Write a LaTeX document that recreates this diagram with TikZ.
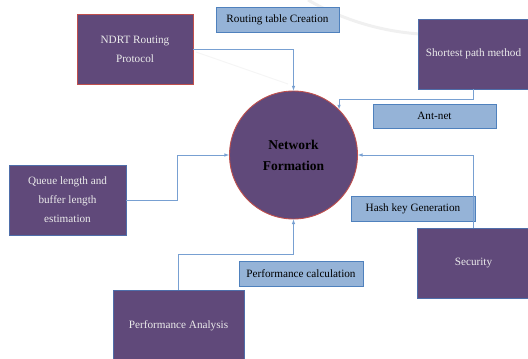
\documentclass[tikz,border=0pt]{standalone}
\usepackage{fontspec}
\setmainfont{Liberation Serif}
\definecolor{boxPurple}{RGB}{96,73,122}
\definecolor{edgeRed}{RGB}{192,80,77}
\definecolor{edgeBlue}{RGB}{79,110,170}
\definecolor{tagFill}{RGB}{149,179,215}
\definecolor{tagEdge}{RGB}{79,129,189}
\definecolor{wireBlue}{RGB}{120,160,210}
\begin{document}
\begin{tikzpicture}[
  x=1pt, y=-1pt,
  task/.style={rectangle, draw=edgeBlue, fill=boxPurple, line width=0.9pt,
    text=white!92!black, align=center, font=\fontsize{11.2}{19}\selectfont},
  redTask/.style={task, draw=edgeRed},
  tag/.style={rectangle, draw=tagEdge, fill=tagFill, line width=0.9pt,
    minimum height=25, font=\fontsize{11.2}{13}\selectfont},
  hub/.style={circle, draw=edgeRed, fill=boxPurple, line width=0.9pt,
    minimum size=128, align=center, font=\bfseries\fontsize{13.5}{21}\selectfont},
  link/.style={draw=wireBlue, line width=0.6pt, -latex}
]
\useasboundingbox (0,0) rectangle (528,359);
\clip (0,0) rectangle (528,359);

% --- faint background swoosh ---
\draw[gray!12, line width=3pt] (308,0) .. controls (350,24) and (390,32) .. (420,34);
\draw[gray!8, line width=1pt] (196,52) -- (288,84);

% --- centre ---
\node[hub] (hub) at (293.5,155) {Network\\Formation};

% --- outer blocks ---
\node[redTask, minimum width=116, minimum height=70] (ndrt) at (135,49) {NDRT Routing\\Protocol};
\node[task, minimum width=111, minimum height=70] (spm) at (473.5,54) {Shortest path method};
\node[task, minimum width=117, minimum height=70] (queue) at (67.5,200) {Queue length and\\buffer length\\estimation};
\node[task, minimum width=112, minimum height=70] (security) at (473.5,263) {Security};
\node[task, minimum width=131, minimum height=72] (perfana) at (178.5,326) {Performance Analysis};

% --- labels on the links ---
\node[tag, minimum width=123] (rtc) at (277.5,20) {Routing table Creation};
\node[tag, minimum width=123, minimum height=24] (antnet) at (434.5,116) {Ant-net};
\node[tag, minimum width=124] (hash) at (413,209) {Hash key Generation};
\node[tag, minimum width=124] (perfcalc) at (301,274) {Performance calculation};

% --- links into the centre ---
\coordinate (antBend) at (hub.45 |- 0,99);
\draw[link] (ndrt.east) -| (hub.north);
\draw[link] (spm.south) |- (antBend) -- (hub.45);
\draw[link] (security.north) |- (hub.east);
\draw[link] (perfana.north) -- ++(0,-35) -| (hub.south);
\draw[link] (queue.east) -- ++(51,0) |- (hub.west);

\end{tikzpicture}
\end{document}
